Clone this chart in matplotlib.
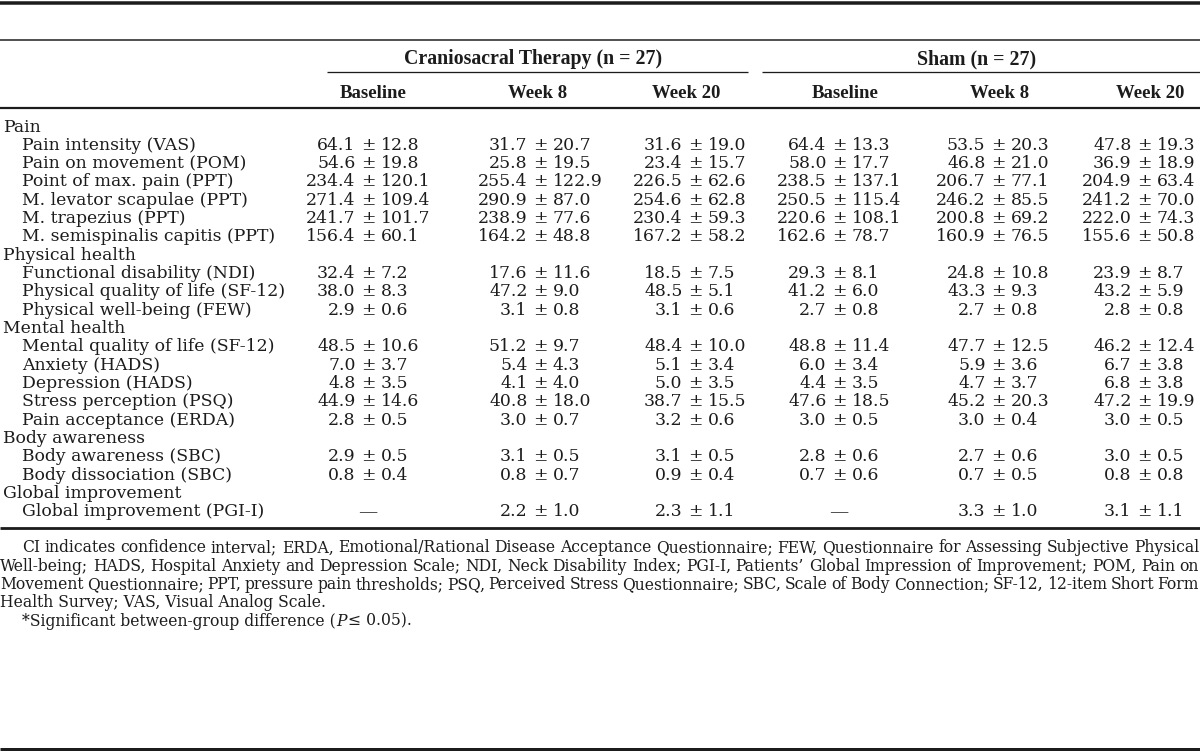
import matplotlib
matplotlib.use("Agg")
import matplotlib.pyplot as plt

# Table content
row_labels = [
    "Pain", "Pain intensity (VAS)", "Pain on movement (POM)", "Point of max. pain (PPT)",
    "M. levator scapulae (PPT)", "M. trapezius (PPT)", "M. semispinalis capitis (PPT)",
    "Physical health", "Functional disability (NDI)", "Physical quality of life (SF-12)",
    "Physical well-being (FEW)",
    "Mental health", "Mental quality of life (SF-12)", "Anxiety (HADS)", "Depression (HADS)",
    "Stress perception (PSQ)", "Pain acceptance (ERDA)",
    "Body awareness", "Body awareness (SBC)", "Body dissociation (SBC)",
    "Global improvement", "Global improvement (PGI-I)",
]
is_section = [True, False, False, False, False, False, False,
              True, False, False, False,
              True, False, False, False, False, False,
              True, False, False,
              True, False]

cst_baseline = ["", "64.1 ± 12.8", "54.6 ± 19.8", "234.4 ± 120.1", "271.4 ± 109.4", "241.7 ± 101.7", "156.4 ± 60.1",
                "", "32.4 ± 7.2", "38.0 ± 8.3", "2.9 ± 0.6",
                "", "48.5 ± 10.6", "7.0 ± 3.7", "4.8 ± 3.5", "44.9 ± 14.6", "2.8 ± 0.5",
                "", "2.9 ± 0.5", "0.8 ± 0.4",
                "", "—"]
cst_week8 = ["", "31.7 ± 20.7", "25.8 ± 19.5", "255.4 ± 122.9", "290.9 ± 87.0", "238.9 ± 77.6", "164.2 ± 48.8",
             "", "17.6 ± 11.6", "47.2 ± 9.0", "3.1 ± 0.8",
             "", "51.2 ± 9.7", "5.4 ± 4.3", "4.1 ± 4.0", "40.8 ± 18.0", "3.0 ± 0.7",
             "", "3.1 ± 0.5", "0.8 ± 0.7",
             "", "2.2 ± 1.0"]
cst_week20 = ["", "31.6 ± 19.0", "23.4 ± 15.7", "226.5 ± 62.6", "254.6 ± 62.8", "230.4 ± 59.3", "167.2 ± 58.2",
              "", "18.5 ± 7.5", "48.5 ± 5.1", "3.1 ± 0.6",
              "", "48.4 ± 10.0", "5.1 ± 3.4", "5.0 ± 3.5", "38.7 ± 15.5", "3.2 ± 0.6",
              "", "3.1 ± 0.5", "0.9 ± 0.4",
              "", "2.3 ± 1.1"]
sham_baseline = ["", "64.4 ± 13.3", "58.0 ± 17.7", "238.5 ± 137.1", "250.5 ± 115.4", "220.6 ± 108.1", "162.6 ± 78.7",
                 "", "29.3 ± 8.1", "41.2 ± 6.0", "2.7 ± 0.8",
                 "", "48.8 ± 11.4", "6.0 ± 3.4", "4.4 ± 3.5", "47.6 ± 18.5", "3.0 ± 0.5",
                 "", "2.8 ± 0.6", "0.7 ± 0.6",
                 "", "—"]
sham_week8 = ["", "53.5 ± 20.3", "46.8 ± 21.0", "206.7 ± 77.1", "246.2 ± 85.5", "200.8 ± 69.2", "160.9 ± 76.5",
              "", "24.8 ± 10.8", "43.3 ± 9.3", "2.7 ± 0.8",
              "", "47.7 ± 12.5", "5.9 ± 3.6", "4.7 ± 3.7", "45.2 ± 20.3", "3.0 ± 0.4",
              "", "2.7 ± 0.6", "0.7 ± 0.5",
              "", "3.3 ± 1.0"]
sham_week20 = ["", "47.8 ± 19.3", "36.9 ± 18.9", "204.9 ± 63.4", "241.2 ± 70.0", "222.0 ± 74.3", "155.6 ± 50.8",
               "", "23.9 ± 8.7", "43.2 ± 5.9", "2.8 ± 0.8",
               "", "46.2 ± 12.4", "6.7 ± 3.8", "6.8 ± 3.8", "47.2 ± 19.9", "3.0 ± 0.5",
               "", "3.0 ± 0.5", "0.8 ± 0.8",
               "", "3.1 ± 1.1"]

group_names = ["Craniosacral Therapy (n = 27)", "Sham (n = 27)"]
time_labels = ["Baseline", "Week 8", "Week 20", "Baseline", "Week 8", "Week 20"]

footnote_lines = [
    "CI indicates confidence interval; ERDA, Emotional/Rational Disease Acceptance Questionnaire; FEW, Questionnaire for Assessing Subjective Physical",
    "Well-being; HADS, Hospital Anxiety and Depression Scale; NDI, Neck Disability Index; PGI-I, Patients\u2019 Global Impression of Improvement; POM, Pain on",
    "Movement Questionnaire; PPT, pressure pain thresholds; PSQ, Perceived Stress Questionnaire; SBC, Scale of Body Connection; SF-12, 12-item Short Form",
    "Health Survey; VAS, Visual Analog Scale.",
]

# layout (pixels)
W, H = 1200, 753
pm_x = [368, 540, 695, 839, 998, 1144]
time_x = [373, 538, 686, 845, 1000, 1150]
group_span = [(327, 748), (762, 1200)]
row_y0, row_dy = 127, 18.33
pm_gap = 12.5

BODY = "DejaVu Serif"
fs = 12.4
ink = "#1c1c1c"

fig = plt.figure(figsize=(W / 100, H / 100), dpi=100)
ax = fig.add_axes([0, 0, 1, 1])
ax.set_xlim(0, W)
ax.set_ylim(H, 0)
ax.axis("off")
renderer = fig.canvas.get_renderer()


def hline(y, x0=0, x1=W, px=1.2):
    ax.plot([x0, x1], [y, y], color=ink, lw=px * 0.72, solid_capstyle="butt")


def text_width(t):
    return t.get_window_extent(renderer).width


# rules
hline(2.5, px=3.5)
hline(40, px=1.5)
hline(108, px=2.2)
hline(528, px=2.8)
hline(749, px=3.0)
for x0, x1 in group_span:
    hline(72, x0, x1, px=1.3)

# headers
for (x0, x1), name in zip(group_span, group_names):
    ax.text((x0 + x1) / 2 - 4, 59, name, ha="center", va="center", fontsize=14.3,
            fontweight="bold", family="Liberation Serif", color=ink)
for x, lab in zip(time_x, time_labels):
    ax.text(x, 93, lab, ha="center", va="center", fontsize=13.5,
            fontweight="bold", family="Liberation Serif", color=ink)

# body rows
columns = [cst_baseline, cst_week8, cst_week20, sham_baseline, sham_week8, sham_week20]
for i, lab in enumerate(row_labels):
    y = row_y0 + i * row_dy
    x = 3 if is_section[i] else 22
    ax.text(x, y, lab, ha="left", va="center", fontsize=fs, family=BODY, color=ink)
    for col, px in zip(columns, pm_x):
        val = col[i]
        if not val:
            continue
        if val == "—":
            ax.text(px, y, val, ha="center", va="center", fontsize=fs,
                    family="Liberation Serif", color=ink)
            continue
        mean, sd = val.split(" ± ")
        ax.text(px - pm_gap, y, mean, ha="right", va="center", fontsize=fs, family=BODY, color=ink)
        ax.text(px, y, "±", ha="center", va="center", fontsize=fs, family=BODY, color=ink)
        ax.text(px + pm_gap, y, sd, ha="left", va="center", fontsize=fs, family=BODY, color=ink)

# footnote, justified to the full width
note_y0, note_dy = 548, 18.3
note_left = [22, 0, 0, 0]
note_fs = 12.0
while note_fs > 9:
    probe = [ax.text(0, -50, w, fontsize=note_fs, family=BODY)
             for k in range(3) for w in footnote_lines[k].split(" ")]
    worst = 0
    idx = 0
    for k in range(3):
        n = len(footnote_lines[k].split(" "))
        tot = sum(text_width(t) for t in probe[idx:idx + n])
        idx += n
        worst = max(worst, tot + 3.5 * (n - 1) + note_left[k])
    for t in probe:
        t.remove()
    if worst <= W - 1:
        break
    note_fs -= 0.25

for k, line in enumerate(footnote_lines):
    y = note_y0 + k * note_dy
    x0 = note_left[k]
    if k == len(footnote_lines) - 1:
        ax.text(x0, y, line, ha="left", va="center", fontsize=note_fs, family=BODY, color=ink)
        continue
    words = line.split(" ")
    arts = [ax.text(0, y, w, ha="left", va="center", fontsize=note_fs, family=BODY, color=ink)
            for w in words]
    widths = [text_width(a) for a in arts]
    gap = (W - 1 - x0 - sum(widths)) / (len(words) - 1)
    x = x0
    for a, w in zip(arts, widths):
        a.set_x(x)
        x += w + gap

# significance note with italic P
y = note_y0 + len(footnote_lines) * note_dy
x = 22
for piece, style in [("*Significant between-group difference (", "normal"), ("P", "italic"),
                     ("\u2264 0.05).", "normal")]:
    t = ax.text(x, y, piece, ha="left", va="center", fontsize=note_fs, family=BODY,
                style=style, color=ink)
    x += text_width(t) + (2 if style == "italic" else 0)

fig.savefig("out.png", dpi=100)
